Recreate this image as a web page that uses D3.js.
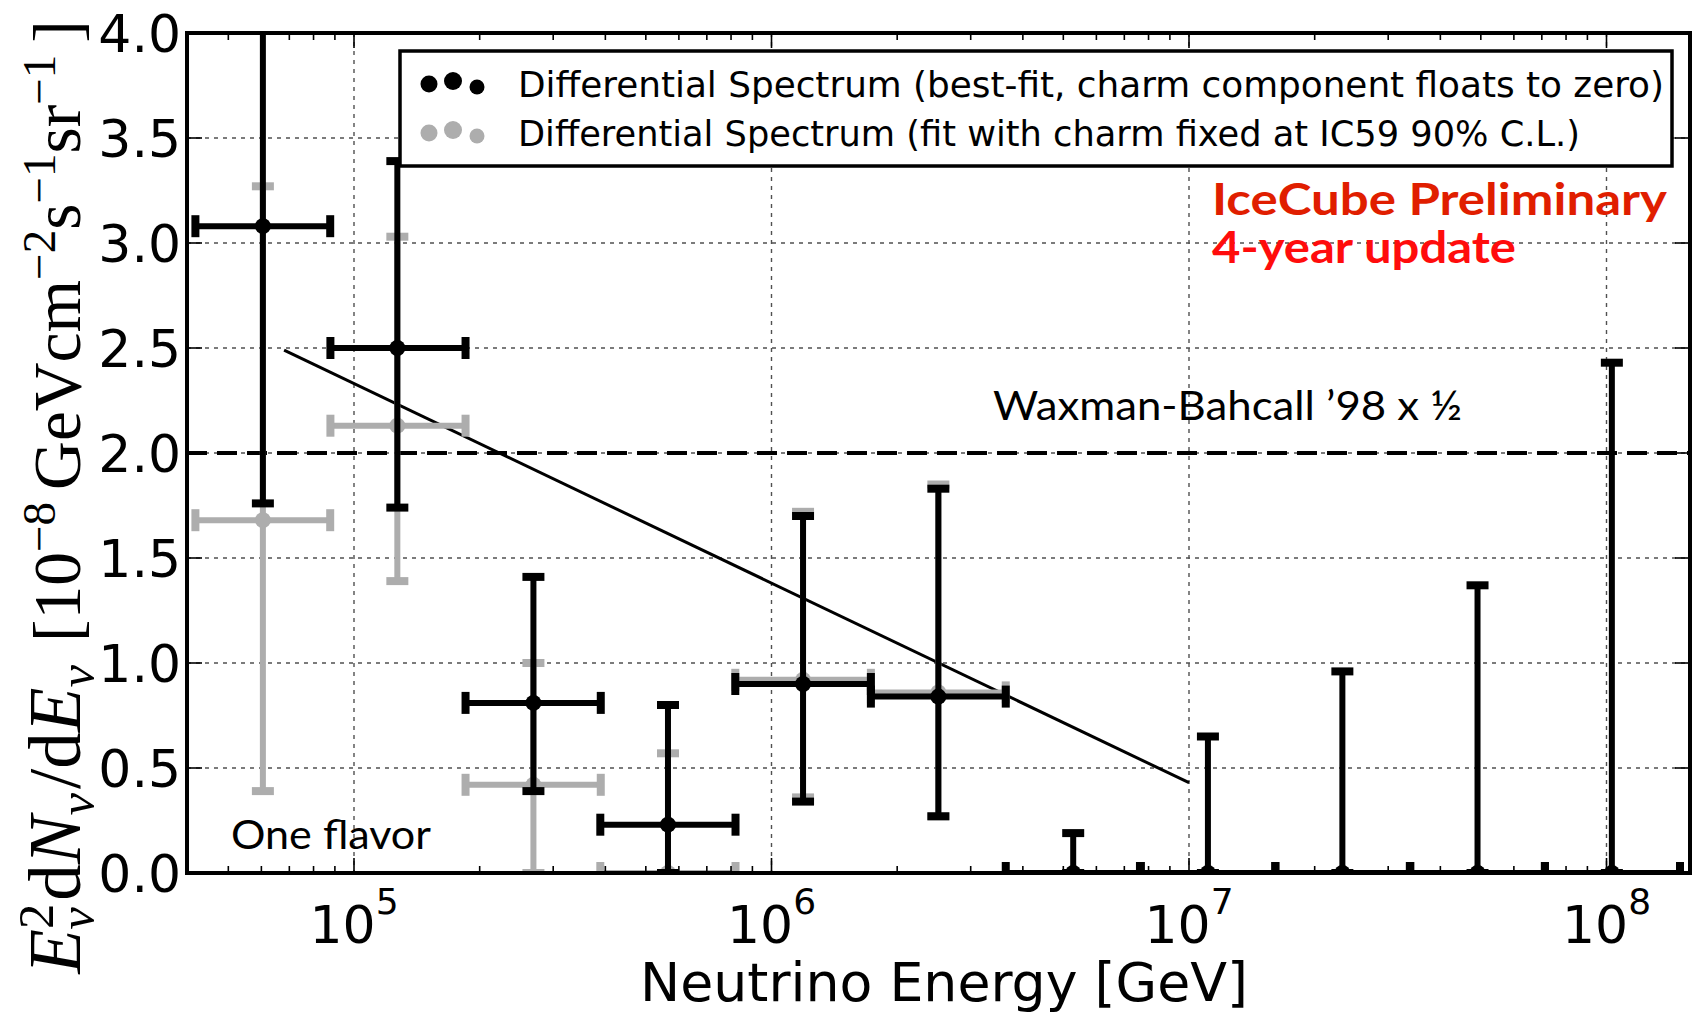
<!DOCTYPE html>
<html><head><meta charset="utf-8">
<script src="https://cdn.jsdelivr.net/npm/d3@7"></script>
<style>html,body{margin:0;padding:0;background:#fff;} svg{display:block}</style>
</head><body>
<svg id="chart" width="1696" height="1014"></svg>
<script>
// ---------------- data ----------------
const energy  = [6.05e4, 1.27e5, 2.69e5, 5.65e5, 1.19e6, 2.51e6, 5.28e6, 1.11e7, 2.33e7, 4.91e7, 1.03e8];
const binLow  = [4.17e4, 8.78e4, 1.85e5, 3.89e5, 8.19e5, 1.73e6, 3.64e6, 7.63e6, 1.61e7, 3.38e7, 7.12e7];
const binHigh = [8.77e4, 1.85e5, 3.90e5, 8.20e5, 1.73e6, 3.64e6, 7.67e6, 1.61e7, 3.39e7, 7.12e7, 1.50e8];

// best fit (black): value, upper end, lower end of error bar
const bestValue = [3.08, 2.50, 0.81, 0.23, 0.90, 0.84, 0.0, 0.0, 0.0, 0.0, 0.0];
const bestUpper = [4.60, 3.39, 1.41, 0.80, 1.70, 1.83, 0.19, 0.65, 0.96, 1.37, 2.43];
const bestLower = [1.76, 1.74, 0.39, 0.00, 0.34, 0.27, 0.0, 0.0, 0.0, 0.0, 0.0];

// charm fixed at IC59 90% C.L. (grey)
const charmValue = [1.68, 2.13, 0.42, 0.00, 0.92, 0.86];
const charmUpper = [3.27, 3.03, 1.00, 0.57, 1.72, 1.85];
const charmLower = [0.39, 1.39, 0.00, 0.00, 0.36, 0.27];

const yTickValues = [0, 0.5, 1.0, 1.5, 2.0, 2.5, 3.0, 3.5, 4.0];
const yTickLabels = ["0.0","0.5","1.0","1.5","2.0","2.5","3.0","3.5","4.0"];
const xTickValues = [1e5, 1e6, 1e7, 1e8];
const xTickExponents = ["5","6","7","8"];

const wbLevel = 2.0;
const fitLineE = [6.8e4, 1.0e7];
const fitLineFlux = [2.49, 0.43];

const legendLabels = [
  "Differential Spectrum (best-fit, charm component floats to zero)",
  "Differential Spectrum (fit with charm fixed at IC59 90% C.L.)"
];
const legendColors = ["#000000", "#adadad"];

// ---------------- layout ----------------
const L = 187, R = 1690, T = 33, B = 873;
const svg = d3.select("#chart");
svg.append("rect").attr("width",1696).attr("height",1014).attr("fill","#fff");

const x = d3.scaleLog().domain([Math.pow(10,4.6), Math.pow(10,8.2)]).range([L, R]);
const y = d3.scaleLinear().domain([0, 4]).range([B, T]);

svg.append("defs").append("clipPath").attr("id","plotclip")
  .append("rect").attr("x",L).attr("y",T).attr("width",R-L).attr("height",B-T);

const plot = svg.append("g").attr("clip-path","url(#plotclip)");

// grid
const gridColor = "#505050";
plot.selectAll(".gx").data(xTickValues).join("line")
  .attr("x1", d=>x(d)).attr("x2", d=>x(d)).attr("y1", T).attr("y2", B)
  .attr("stroke", gridColor).attr("stroke-width", 1.4).attr("stroke-dasharray","4,5");
plot.selectAll(".gy").data(yTickValues.filter(v=>v>0 && v<4)).join("line")
  .attr("x1", L).attr("x2", R).attr("y1", d=>y(d)).attr("y2", d=>y(d))
  .attr("stroke", gridColor).attr("stroke-width", 1.4).attr("stroke-dasharray","4,5");

// Waxman-Bahcall dashed line
plot.append("line").attr("x1", L).attr("x2", R).attr("y1", y(wbLevel)).attr("y2", y(wbLevel))
  .attr("stroke","#000").attr("stroke-width",4).attr("stroke-dasharray","20,10");

// fit line
plot.append("line")
  .attr("x1", x(fitLineE[0])).attr("y1", y(fitLineFlux[0]))
  .attr("x2", x(fitLineE[1])).attr("y2", y(fitLineFlux[1]))
  .attr("stroke","#000").attr("stroke-width",3);

function drawSeries(vals, ups, lows, color) {
  const g = plot.append("g");
  const idx = d3.range(vals.length);
  const capHalf = 11, capW = 8, barW = 6;
  g.selectAll(".hb").data(idx).join("line")
    .attr("x1", i=>x(binLow[i])).attr("x2", i=>x(binHigh[i]))
    .attr("y1", i=>y(vals[i])).attr("y2", i=>y(vals[i]))
    .attr("stroke", color).attr("stroke-width", barW);
  g.selectAll(".vb").data(idx).join("line")
    .attr("x1", i=>x(energy[i])).attr("x2", i=>x(energy[i]))
    .attr("y1", i=>y(lows[i])).attr("y2", i=>y(ups[i]))
    .attr("stroke", color).attr("stroke-width", barW);
  [binLow, binHigh].forEach(arr=>{
    g.selectAll(null).data(idx).join("line")
      .attr("x1", i=>x(arr[i])).attr("x2", i=>x(arr[i]))
      .attr("y1", i=>y(vals[i])-capHalf).attr("y2", i=>y(vals[i])+capHalf)
      .attr("stroke", color).attr("stroke-width", capW);
  });
  [ups, lows].forEach(arr=>{
    g.selectAll(null).data(idx).join("line")
      .attr("x1", i=>x(energy[i])-capHalf).attr("x2", i=>x(energy[i])+capHalf)
      .attr("y1", i=>y(arr[i])).attr("y2", i=>y(arr[i]))
      .attr("stroke", color).attr("stroke-width", capW);
  });
  g.selectAll("circle").data(idx).join("circle")
    .attr("cx", i=>x(energy[i])).attr("cy", i=>y(vals[i])).attr("r", 8)
    .attr("fill", color);
}
drawSeries(charmValue, charmUpper, charmLower, legendColors[1]);
drawSeries(bestValue, bestUpper, bestLower, legendColors[0]);

// ---------------- axes frame & ticks ----------------
const ax = svg.append("g");
const minorTicks = x.ticks(40).filter(v => {
  const l = Math.log10(v); return Math.abs(l - Math.round(l)) > 1e-6;
});
const tickStroke = 1.6;
[[B,-1],[T,1]].forEach(([yy,dir])=>{
  ax.selectAll(null).data(minorTicks).join("line")
    .attr("x1", d=>x(d)).attr("x2", d=>x(d)).attr("y1", yy).attr("y2", yy+dir*7)
    .attr("stroke","#000").attr("stroke-width", tickStroke);
  ax.selectAll(null).data(xTickValues).join("line")
    .attr("x1", d=>x(d)).attr("x2", d=>x(d)).attr("y1", yy).attr("y2", yy+dir*15)
    .attr("stroke","#000").attr("stroke-width", tickStroke);
});
[[L,1],[R,-1]].forEach(([xx,dir])=>{
  ax.selectAll(null).data(yTickValues).join("line")
    .attr("x1", xx).attr("x2", xx+dir*15).attr("y1", d=>y(d)).attr("y2", d=>y(d))
    .attr("stroke","#000").attr("stroke-width", tickStroke);
});
ax.append("rect").attr("x",L).attr("y",T).attr("width",R-L).attr("height",B-T)
  .attr("fill","none").attr("stroke","#000").attr("stroke-width",4);

// y tick labels
ax.selectAll(".ytl").data(yTickValues).join("text")
  .attr("x", 181).attr("y", d=>y(d)+19)
  .attr("text-anchor","end")
  .attr("font-family","DejaVu Sans").attr("font-size",52)
  .text((d,i)=>yTickLabels[i]);

// x tick labels 10^n
const xtl = ax.selectAll(".xtl").data(xTickValues).join("text")
  .attr("x", d=>x(d)).attr("y", 943).attr("text-anchor","middle")
  .attr("font-family","DejaVu Sans").attr("font-size",52);
xtl.append("tspan").text("10");
xtl.append("tspan").attr("font-size",36).attr("dy",-29).text((d,i)=>xTickExponents[i]);

// x label
svg.append("text").attr("x", 944).attr("y", 1001).attr("text-anchor","middle")
  .attr("font-family","DejaVu Sans").attr("font-size",54)
  .attr("textLength",608).attr("lengthAdjust","spacingAndGlyphs")
  .text("Neutrino Energy [GeV]");

// y label (mathtext-like), built in two pieces
const BS = 56, SUP = 39, up = 21, dn = 11;
function mathLabel(parts, yStart, yEnd, baseX) {
  const g = svg.append("g");
  const t = g.append("text").attr("font-family","Liberation Serif, DejaVu Serif, serif")
    .attr("font-size",BS).attr("x",0).attr("y",0);
  parts.forEach(p=>{
    const ts = t.append("tspan").text(p.t).attr("font-size", p.size||BS);
    if (p.it) ts.attr("font-style","italic");
    if (p.dy) ts.attr("dy", p.dy);
    if (p.dx) ts.attr("dx", p.dx);
  });
  const bb = t.node().getBBox();
  const k = (yStart - yEnd) / bb.width;
  t.attr("x", -bb.x);
  g.attr("transform", `translate(${baseX},${yStart}) rotate(-90) scale(${k})`);
}
mathLabel([
  {t:"E", it:true},
  {t:"2", size:SUP, dy:-up},
  {t:"ν", size:SUP, it:true, dy:up+dn, dx:-20},
  {t:"d", dy:-dn, dx:5},
  {t:"N", it:true},
  {t:"ν", size:SUP, it:true, dy:dn},
  {t:"/d", dy:-dn, dx:3},
  {t:"E", it:true},
  {t:"ν", size:SUP, it:true, dy:dn}
], 975, 664, 80);
mathLabel([
  {t:"[10"},
  {t:"−8", size:SUP, dy:-up},
  {t:"GeVcm", dy:up, dx:10},
  {t:"−2", size:SUP, dy:-up},
  {t:"s", dy:up},
  {t:"−1", size:SUP, dy:-up},
  {t:"sr", dy:up},
  {t:"−1", size:SUP, dy:-up},
  {t:"]", dy:up, dx:10}
], 642, 20, 80);

// ---------------- legend ----------------
const lg = svg.append("g");
lg.append("rect").attr("x",400).attr("y",51).attr("width",1272).attr("height",115)
  .attr("fill","#fff").attr("stroke","#000").attr("stroke-width",3.5);
const rowsY = [84, 133];
const dotDx = [429, 453, 477], dotDy = [0, -3, 3], dotR = [8.5, 9, 7.5];
legendLabels.forEach((lab,i)=>{
  dotDx.forEach((dx,j)=>{
    lg.append("circle").attr("cx",dx).attr("cy",rowsY[i]+dotDy[j]).attr("r",dotR[j]).attr("fill",legendColors[i]);
  });
  lg.append("text").attr("x",518).attr("y",rowsY[i]+13)
    .attr("font-family","DejaVu Sans").attr("font-size",36)
    .attr("textLength", i===0?1146:1062).attr("lengthAdjust","spacingAndGlyphs")
    .text(lab);
});

// ---------------- annotations ----------------
svg.append("text").attr("x",1212).attr("y",215)
  .attr("font-family","Lato").attr("font-weight","bold").attr("font-size",44)
  .attr("fill","#e01e00").attr("textLength",455).attr("lengthAdjust","spacingAndGlyphs")
  .text("IceCube Preliminary");
svg.append("text").attr("x",1212).attr("y",263)
  .attr("font-family","Lato").attr("font-weight","bold").attr("font-size",44)
  .attr("fill","#ff0c0c").attr("textLength",304).attr("lengthAdjust","spacingAndGlyphs")
  .text("4-year update");
svg.append("text").attr("x",993).attr("y",420)
  .attr("font-family","Lato").attr("font-size",41)
  .attr("textLength",469).attr("lengthAdjust","spacingAndGlyphs")
  .text("Waxman-Bahcall ’98 x ½");
svg.append("text").attr("x",231).attr("y",849)
  .attr("font-family","Lato").attr("font-size",41)
  .attr("textLength",200).attr("lengthAdjust","spacingAndGlyphs")
  .text("One flavor");
</script>
</body></html>
